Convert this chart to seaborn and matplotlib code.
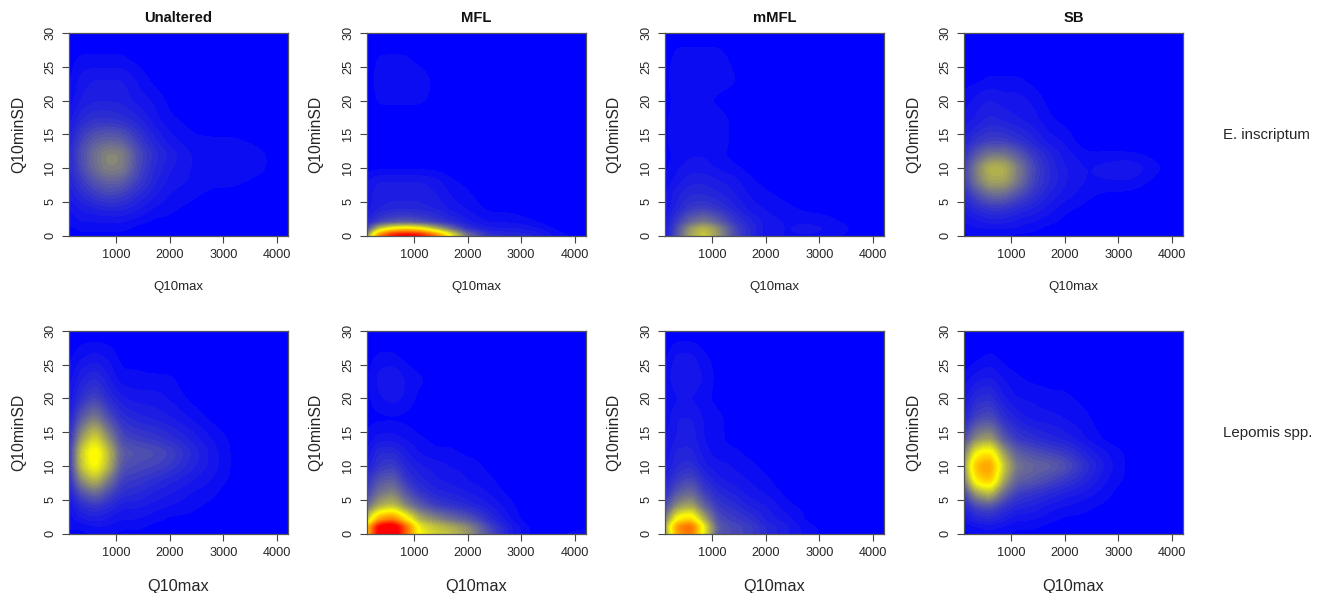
import numpy as np
import matplotlib
matplotlib.use("Agg")
import matplotlib.pyplot as plt
import seaborn as sns

q10max = [120, 350, 600, 850, 1100, 1400, 1700, 2000, 2400, 2800, 3200, 3700, 4210]
q10minsd = [0, 1, 2, 4, 6, 8, 10, 12, 14, 17, 20, 23, 26, 30]

columns = ["Unaltered", "MFL", "mMFL", "SB"]
species = ["E. inscriptum", "Lepomis spp."]
x_ticks = [1000, 2000, 3000, 4000]
y_ticks = [0, 5, 10, 15, 20, 25, 30]

e_unaltered = [
    [1, 1, 1, 1, 1, 1, 0, 0, 0, 0, 0, 0, 0],
    [1, 2, 2, 2, 2, 1, 1, 0, 0, 0, 0, 0, 0],
    [2, 3, 3, 3, 3, 2, 1, 1, 0, 0, 0, 0, 0],
    [3, 5, 6, 7, 7, 5, 3, 2, 1, 0, 0, 0, 0],
    [5, 8, 11, 13, 12, 8, 5, 3, 2, 1, 1, 0, 0],
    [6, 11, 16, 19, 18, 12, 7, 4, 3, 2, 2, 1, 0],
    [7, 14, 21, 26, 25, 14, 8, 5, 3, 3, 3, 2, 0],
    [7, 15, 22, 27, 26, 15, 9, 6, 3, 3, 3, 2, 0],
    [6, 13, 18, 20, 19, 12, 7, 4, 2, 2, 2, 1, 0],
    [4, 8, 10, 10, 9, 7, 4, 2, 1, 0, 0, 0, 0],
    [2, 5, 6, 6, 6, 4, 3, 1, 0, 0, 0, 0, 0],
    [1, 4, 5, 5, 5, 3, 1, 0, 0, 0, 0, 0, 0],
    [1, 2, 2, 2, 2, 1, 0, 0, 0, 0, 0, 0, 0],
    [0, 0, 0, 0, 0, 0, 0, 0, 0, 0, 0, 0, 0],
]
e_mfl = [
    [25, 78, 100, 108, 102, 80, 48, 22, 9, 8, 7, 2, 1],
    [12, 38, 52, 56, 52, 35, 20, 9, 5, 5, 4, 1, 0],
    [6, 12, 15, 16, 14, 11, 8, 5, 3, 3, 2, 0, 0],
    [4, 6, 7, 7, 7, 6, 4, 3, 1, 1, 0, 0, 0],
    [4, 6, 6, 6, 6, 5, 3, 2, 0, 0, 0, 0, 0],
    [3, 5, 5, 5, 5, 4, 2, 1, 0, 0, 0, 0, 0],
    [1, 1, 1, 1, 1, 1, 0, 0, 0, 0, 0, 0, 0],
    [0, 0, 0, 0, 0, 0, 0, 0, 0, 0, 0, 0, 0],
    [0, 0, 0, 0, 0, 0, 0, 0, 0, 0, 0, 0, 0],
    [0, 0, 0, 0, 0, 0, 0, 0, 0, 0, 0, 0, 0],
    [0, 2, 2, 2, 2, 1, 0, 0, 0, 0, 0, 0, 0],
    [0, 3, 3, 3, 3, 1, 0, 0, 0, 0, 0, 0, 0],
    [0, 2, 2, 2, 1, 0, 0, 0, 0, 0, 0, 0, 0],
    [0, 0, 0, 0, 0, 0, 0, 0, 0, 0, 0, 0, 0],
]
e_mmfl = [
    [4, 16, 32, 40, 30, 15, 8, 4, 3, 3, 2, 1, 0],
    [4, 15, 30, 37, 28, 14, 8, 4, 3, 4, 3, 1, 0],
    [4, 12, 20, 24, 19, 11, 7, 4, 3, 3, 2, 1, 0],
    [3, 7, 11, 12, 10, 7, 4, 3, 2, 1, 1, 0, 0],
    [3, 6, 8, 8, 7, 5, 3, 2, 1, 0, 0, 0, 0],
    [2, 4, 6, 6, 5, 4, 2, 1, 0, 0, 0, 0, 0],
    [1, 3, 4, 4, 3, 2, 1, 0, 0, 0, 0, 0, 0],
    [1, 2, 3, 3, 2, 1, 0, 0, 0, 0, 0, 0, 0],
    [1, 3, 3, 3, 3, 1, 0, 0, 0, 0, 0, 0, 0],
    [1, 3, 3, 3, 3, 1, 0, 0, 0, 0, 0, 0, 0],
    [1, 2, 2, 2, 1, 0, 0, 0, 0, 0, 0, 0, 0],
    [1, 3, 3, 3, 3, 2, 0, 0, 0, 0, 0, 0, 0],
    [0, 3, 3, 3, 3, 1, 0, 0, 0, 0, 0, 0, 0],
    [0, 0, 0, 0, 0, 0, 0, 0, 0, 0, 0, 0, 0],
]
e_sb = [
    [1, 2, 2, 2, 1, 1, 0, 0, 0, 0, 0, 0, 0],
    [2, 3, 3, 3, 3, 2, 1, 0, 0, 0, 0, 0, 0],
    [3, 4, 5, 5, 4, 3, 2, 1, 0, 0, 0, 0, 0],
    [5, 8, 10, 10, 8, 6, 4, 2, 1, 0, 0, 0, 0],
    [8, 14, 20, 20, 15, 10, 6, 4, 2, 1, 1, 0, 0],
    [11, 23, 32, 32, 24, 13, 8, 5, 3, 3, 3, 1, 0],
    [12, 25, 36, 36, 26, 14, 8, 5, 3, 4, 5, 2, 0],
    [9, 17, 23, 23, 18, 11, 7, 4, 2, 2, 2, 1, 0],
    [6, 10, 12, 12, 10, 7, 4, 3, 0, 0, 0, 0, 0],
    [4, 5, 7, 6, 5, 4, 2, 1, 0, 0, 0, 0, 0],
    [2, 4, 5, 4, 4, 3, 1, 0, 0, 0, 0, 0, 0],
    [1, 1, 2, 2, 2, 1, 0, 0, 0, 0, 0, 0, 0],
    [0, 0, 0, 0, 0, 0, 0, 0, 0, 0, 0, 0, 0],
    [0, 0, 0, 0, 0, 0, 0, 0, 0, 0, 0, 0, 0],
]
l_unaltered = [
    [1, 1, 2, 2, 1, 1, 1, 0, 0, 0, 0, 0, 0],
    [2, 2, 3, 3, 2, 2, 1, 1, 0, 0, 0, 0, 0],
    [2, 4, 5, 4, 3, 3, 2, 1, 1, 0, 0, 0, 0],
    [3, 8, 10, 8, 5, 5, 4, 3, 2, 1, 0, 0, 0],
    [5, 15, 21, 14, 9, 8, 6, 5, 3, 2, 0, 0, 0],
    [7, 27, 37, 24, 12, 11, 9, 7, 5, 3, 1, 0, 0],
    [8, 38, 52, 35, 16, 14, 13, 11, 7, 4, 1, 0, 0],
    [8, 40, 55, 37, 18, 16, 15, 13, 8, 4, 1, 0, 0],
    [7, 30, 44, 28, 14, 12, 11, 9, 6, 3, 1, 0, 0],
    [5, 17, 25, 15, 9, 7, 6, 5, 3, 1, 0, 0, 0],
    [3, 9, 13, 8, 5, 4, 4, 3, 1, 0, 0, 0, 0],
    [2, 6, 8, 5, 2, 2, 2, 2, 0, 0, 0, 0, 0],
    [1, 3, 4, 3, 1, 1, 0, 0, 0, 0, 0, 0, 0],
    [0, 0, 0, 0, 0, 0, 0, 0, 0, 0, 0, 0, 0],
]
l_mfl = [
    [58, 105, 112, 80, 48, 40, 37, 30, 15, 5, 1, 1, 3],
    [58, 105, 112, 80, 45, 38, 33, 27, 13, 5, 1, 0, 1],
    [38, 72, 80, 56, 35, 28, 22, 18, 9, 3, 0, 0, 0],
    [20, 33, 38, 26, 18, 12, 10, 8, 5, 2, 0, 0, 0],
    [12, 22, 26, 16, 10, 7, 6, 5, 3, 1, 0, 0, 0],
    [9, 16, 18, 10, 7, 5, 4, 3, 2, 0, 0, 0, 0],
    [5, 10, 12, 7, 5, 4, 3, 3, 1, 0, 0, 0, 0],
    [3, 8, 8, 5, 3, 2, 2, 1, 0, 0, 0, 0, 0],
    [2, 4, 4, 3, 2, 1, 1, 0, 0, 0, 0, 0, 0],
    [1, 1, 1, 1, 0, 0, 0, 0, 0, 0, 0, 0, 0],
    [1, 3, 4, 3, 1, 1, 0, 0, 0, 0, 0, 0, 0],
    [1, 4, 5, 3, 2, 1, 0, 0, 0, 0, 0, 0, 0],
    [1, 2, 2, 1, 0, 0, 0, 0, 0, 0, 0, 0, 0],
    [0, 0, 0, 0, 0, 0, 0, 0, 0, 0, 0, 0, 0],
]
l_mmfl = [
    [27, 68, 78, 44, 16, 14, 12, 8, 5, 2, 1, 0, 0],
    [29, 72, 82, 46, 17, 14, 12, 8, 5, 2, 1, 0, 0],
    [23, 54, 62, 34, 15, 12, 10, 6, 4, 1, 0, 0, 0],
    [13, 28, 33, 19, 11, 9, 6, 5, 2, 1, 0, 0, 0],
    [8, 17, 21, 12, 8, 6, 4, 3, 1, 0, 0, 0, 0],
    [6, 11, 14, 8, 5, 4, 3, 2, 0, 0, 0, 0, 0],
    [4, 8, 9, 5, 4, 3, 2, 1, 0, 0, 0, 0, 0],
    [3, 7, 7, 4, 2, 2, 1, 1, 0, 0, 0, 0, 0],
    [3, 5, 6, 3, 2, 1, 1, 0, 0, 0, 0, 0, 0],
    [2, 5, 5, 3, 2, 1, 1, 0, 0, 0, 0, 0, 0],
    [1, 3, 3, 2, 1, 1, 0, 0, 0, 0, 0, 0, 0],
    [2, 5, 5, 3, 1, 1, 1, 0, 0, 0, 0, 0, 0],
    [1, 4, 4, 2, 1, 0, 0, 0, 0, 0, 0, 0, 0],
    [0, 0, 0, 0, 0, 0, 0, 0, 0, 0, 0, 0, 0],
]
l_sb = [
    [1, 2, 2, 2, 1, 1, 1, 0, 0, 0, 0, 0, 0],
    [2, 3, 4, 3, 2, 2, 1, 1, 0, 0, 0, 0, 0],
    [3, 6, 7, 5, 3, 3, 2, 1, 1, 0, 0, 0, 0],
    [6, 13, 15, 10, 7, 6, 4, 3, 2, 1, 0, 0, 0],
    [12, 30, 37, 20, 12, 10, 8, 6, 4, 2, 0, 0, 0],
    [22, 55, 64, 33, 19, 17, 14, 11, 7, 3, 1, 0, 0],
    [28, 65, 72, 40, 23, 20, 19, 16, 9, 4, 1, 0, 0],
    [22, 48, 55, 30, 18, 15, 13, 11, 6, 3, 1, 0, 0],
    [13, 27, 31, 17, 11, 9, 7, 6, 3, 1, 0, 0, 0],
    [6, 13, 15, 9, 6, 4, 4, 3, 2, 0, 0, 0, 0],
    [4, 8, 9, 5, 3, 3, 2, 2, 1, 0, 0, 0, 0],
    [2, 4, 5, 3, 2, 1, 1, 1, 0, 0, 0, 0, 0],
    [0, 1, 2, 1, 0, 0, 0, 0, 0, 0, 0, 0, 0],
    [0, 0, 0, 0, 0, 0, 0, 0, 0, 0, 0, 0, 0],
]
panels = [[e_unaltered, e_mfl, e_mmfl, e_sb], [l_unaltered, l_mfl, l_mmfl, l_sb]]

sns.set_theme(style="ticks")
plt.rcParams["font.family"] = ["Liberation Sans", "DejaVu Sans"]
INK = "#262626"
W, H = 1322, 593
cmap = sns.blend_palette(["#0000ff", "#ffff00", "#ff0000"], as_cmap=True)
cmap.set_under("#0000ff")
cmap.set_over("#ff0000")
levels = np.linspace(1.6, 100, 62)

lefts = [68.7, 366.7, 664.7, 963.7]
rights = [288.3, 586.0, 884.3, 1183.3]
ylab_x = [19, 316, 614, 914]
tops = [33.0, 330.7]
bottoms = [235.7, 533.7]
xlab_size = [9.5, 11.8]
xlab_y = [287, 586]

SUB = 16                 # fine samples per read grid cell
kernel = np.ones(SUB // 2 + 1)
kernel /= kernel.sum()


def smooth_axis(a, axis):
    pad = SUB
    def run(v):
        p = np.pad(v, pad, mode="edge")
        for _ in range(2):
            p = np.convolve(p, kernel, mode="same")
        return p[pad:-pad]
    return np.apply_along_axis(run, axis, a)


def render_field(values):
    """Draw-time smoothing of a read grid, in grid-index space."""
    ix = np.linspace(0, len(q10max) - 1, (len(q10max) - 1) * SUB + 1)
    iy = np.linspace(0, len(q10minsd) - 1, (len(q10minsd) - 1) * SUB + 1)
    v = np.asarray(values, dtype=float)
    f = np.array([np.interp(ix, np.arange(v.shape[1]), row) for row in v])
    f = np.array([np.interp(iy, np.arange(v.shape[0]), col) for col in f.T]).T
    f = smooth_axis(smooth_axis(f, 0), 1)
    return np.interp(ix, np.arange(len(q10max)), q10max), np.interp(iy, np.arange(len(q10minsd)), q10minsd), f


fig = plt.figure(figsize=(W / 100, H / 100), dpi=100, facecolor="white")
for r in range(2):
    for c in range(4):
        ax = fig.add_axes([lefts[c] / W, 1 - bottoms[r] / H,
                           (rights[c] - lefts[c]) / W, (bottoms[r] - tops[r]) / H])
        ax.set_facecolor("#0000ff")
        fx, fy, fz = render_field(panels[r][c])
        ax.contourf(fx, fy, fz, levels=levels, cmap=cmap, vmin=0, vmax=100, extend="both")
        ax.set_xlim(115, 4210)
        ax.set_ylim(0, 30)
        ax.set_xticks(x_ticks)
        ax.set_yticks(y_ticks)
        ax.tick_params(axis="both", length=4.8, width=0.8, color="#444444",
                       labelsize=9.2, labelcolor=INK)
        ax.tick_params(axis="x", pad=5)
        ax.tick_params(axis="y", pad=4, labelrotation=90)
        for lab in ax.get_yticklabels():
            lab.set_va("center")
        for s in ax.spines.values():
            s.set_linewidth(0.9)
            s.set_color("#555555")
        ax.set_xlabel("Q10max", fontsize=xlab_size[r], color=INK, va="center")
        ax.xaxis.set_label_coords(0.5, -(xlab_y[r] - bottoms[r]) / (bottoms[r] - tops[r]))
        ax.set_ylabel("Q10minSD", fontsize=11.3, color=INK, va="center")
        ax.yaxis.set_label_coords((ylab_x[c] - lefts[c]) / (rights[c] - lefts[c]), 0.5)
        if r == 0:
            ax.set_title(columns[c], fontsize=10.6, fontweight="bold", color="#111111", pad=8)

fig.text(1223 / W, 1 - 135 / H, species[0], fontsize=10.8, color=INK, va="center", ha="left")
fig.text(1223 / W, 1 - 433 / H, species[1], fontsize=10.8, color=INK, va="center", ha="left")
fig.savefig("out.png", dpi=100)
